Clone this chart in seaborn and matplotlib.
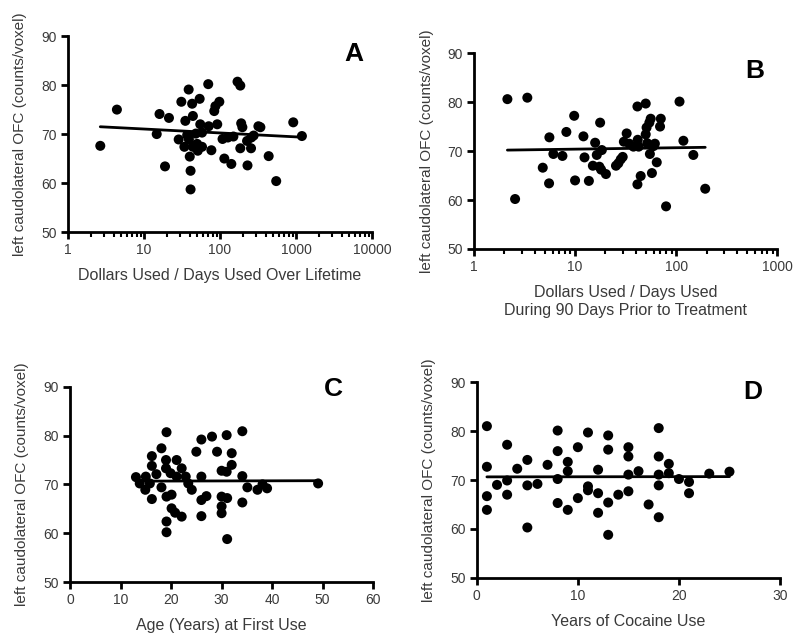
import numpy as np
import pandas as pd
import matplotlib
matplotlib.use("Agg")
import matplotlib.pyplot as plt
import seaborn as sns
from matplotlib.ticker import LogLocator, NullFormatter

sns.set_style("ticks")
plt.rcParams['font.family'] = ['Liberation Sans', 'DejaVu Sans']

# ---- data ----
# Panel A: dollars used / days used over lifetime
a_x = [2.66, 4.4, 14.7, 16, 18.9, 21.3, 31, 28.6, 35, 38.7, 34, 37, 39, 40, 41, 41,
       43, 44, 44, 48, 50, 51, 54, 55, 58, 58, 70, 71, 77, 84, 87, 92, 98, 108, 114,
       141, 127, 150, 170, 185, 190, 197, 185, 227, 230, 258, 256, 277, 320, 340,
       437, 549, 920, 1196]
a_y = [67.6, 75.0, 70.0, 74.1, 63.4, 73.3, 76.6, 68.9, 72.7, 79.1, 67.4, 69.8, 68.9,
       65.4, 62.5, 58.7, 76.2, 73.7, 67.4, 70.1, 68.0, 66.6, 77.2, 72.0, 70.3, 67.4,
       80.2, 71.6, 66.7, 74.7, 75.7, 72.0, 76.6, 69.0, 65.0, 63.9, 69.3, 69.5, 80.7,
       79.9, 72.2, 71.4, 67.1, 68.6, 63.6, 69.3, 67.1, 69.7, 71.6, 71.4, 65.5, 60.4,
       72.4, 69.6]

# Panel B: dollars used / days used during 90 days prior to treatment
b_x = [2.14, 2.55, 3.37, 4.79, 5.57, 5.53, 6.1, 7.5, 8.2, 9.8, 10, 12.1, 12.4, 13.7,
       15, 15.8, 16.4, 17.7, 17.4, 18.4, 18.1, 20.2, 25.4, 26.8, 28.3, 29.6, 32.4,
       30.4, 34.4, 37.8, 41.4, 41.7, 42.6, 41.4, 44.6, 50, 50, 51, 51.8, 54.3, 56,
       55, 57.6, 59.6, 61.6, 64.3, 69.3, 70.5, 79.5, 108, 118, 148, 194]
b_y = [80.6, 60.2, 80.9, 66.6, 72.8, 63.4, 69.4, 69.0, 73.9, 77.2, 64.0, 73.0, 68.7,
       63.9, 67.0, 71.7, 69.2, 75.8, 66.8, 70.2, 66.2, 65.3, 67.0, 67.5, 68.3, 68.8,
       73.6, 71.9, 71.5, 70.9, 79.1, 72.3, 70.9, 63.2, 64.9, 79.7, 73.4, 74.8, 71.6,
       75.8, 76.6, 69.4, 65.5, 71.0, 71.5, 67.7, 75.0, 76.6, 58.7, 80.1, 72.1, 69.2,
       62.3]

# Panel C: age (years) at first use
c_x = [13.05, 13.8, 15.0, 14.9, 15.8, 16.2, 16.2, 16.2, 17.1, 18.1, 18.1, 19.1, 19.0,
       19.0, 19.1, 19.1, 19.1, 19.9, 20.1, 20.1, 20.8, 21.1, 21.1, 22.1, 22.1, 22.9,
       23.4, 24.1, 25, 26, 26, 26, 26, 27, 28.1, 29.1, 30, 30, 30, 30, 31, 31, 31.1,
       31.1, 32, 32, 34.1, 34.1, 34.1, 35.1, 37.1, 38.1, 39, 49.1]
c_y = [71.5, 70.2, 71.6, 68.9, 70.2, 67.0, 73.8, 75.8, 72.1, 77.4, 69.4, 80.7, 75.0,
       73.3, 67.5, 62.4, 60.2, 72.3, 67.9, 65.1, 64.2, 75.0, 71.6, 73.3, 63.4, 71.6,
       70.2, 68.9, 76.7, 79.2, 71.6, 66.8, 63.5, 67.6, 79.8, 76.7, 72.8, 67.5, 65.5,
       64.1, 80.1, 72.6, 67.2, 58.8, 76.4, 74.0, 80.9, 71.7, 66.3, 69.4, 68.9, 70.0,
       69.2, 70.2]

# Panel D: years of cocaine use
d_x = [1, 1, 1, 1, 2, 3, 3, 3, 4, 5, 5, 5, 6, 7, 8, 8, 8, 8, 9, 9, 9, 10, 10, 11, 11,
       11, 12, 12, 12, 13, 13, 13, 13, 14, 15, 15, 15, 15, 16, 17, 18, 18, 18, 18, 18,
       19, 19, 20, 21, 21, 23, 25]
d_y = [81.0, 72.7, 66.7, 63.9, 69.0, 77.2, 69.9, 67.0, 72.3, 74.1, 68.9, 60.3, 69.2,
       73.1, 80.1, 75.9, 70.2, 65.3, 73.7, 71.8, 63.9, 76.7, 66.3, 79.7, 68.7, 67.9,
       72.1, 67.3, 63.3, 79.1, 76.2, 65.4, 58.8, 67.0, 76.7, 74.8, 71.1, 67.7, 71.8,
       65.0, 80.6, 74.8, 71.1, 68.9, 62.4, 73.3, 71.4, 70.2, 69.6, 67.3, 71.3, 71.7]

y_label = "left caudolateral OFC (counts/voxel)"

panels = [
    dict(x=a_x, y=a_y, letter="A", log=True, xlim=(1, 10000),
         xlabel="Dollars Used / Days Used Over Lifetime",
         rect=[0.085, 0.6375, 0.38, 0.306], letter_pos=(0.94, 0.91)),
    dict(x=b_x, y=b_y, letter="B", log=True, xlim=(1, 1000),
         xlabel="Dollars Used / Days Used\nDuring 90 Days Prior to Treatment",
         rect=[0.5925, 0.611, 0.379, 0.306], letter_pos=(0.925, 0.91)),
    dict(x=c_x, y=c_y, letter="C", log=False, xlim=(0, 60), xticks=[0, 10, 20, 30, 40, 50, 60],
         xlabel="Age (Years) at First Use",
         rect=[0.0875, 0.0906, 0.379, 0.305], letter_pos=(0.87, 0.99)),
    dict(x=d_x, y=d_y, letter="D", log=False, xlim=(0, 30), xticks=[0, 10, 20, 30],
         xlabel="Years of Cocaine Use",
         rect=[0.596, 0.097, 0.379, 0.306], letter_pos=(0.91, 0.95)),
]

fig = plt.figure(figsize=(8, 6.4), dpi=100)
tick_color = "#3a3a3a"

for p in panels:
    ax = fig.add_axes(p["rect"])
    df = pd.DataFrame({"x": p["x"], "y": p["y"]})
    sns.regplot(data=df, x="x", y="y", ax=ax, ci=None, logx=p["log"],
                scatter_kws=dict(s=52, color="black", edgecolor="none", alpha=1),
                line_kws=dict(color="black", lw=2))
    if p["log"]:
        ax.set_xscale("log")
        decades = [10 ** k for k in range(int(np.log10(p["xlim"][1])) + 1)]
        ax.set_xticks(decades)
        ax.set_xticklabels([str(d) for d in decades])
        ax.xaxis.set_minor_locator(LogLocator(base=10, subs=np.arange(2, 10)))
        ax.xaxis.set_minor_formatter(NullFormatter())
    else:
        ax.set_xticks(p["xticks"])
    ax.set_xlim(*p["xlim"])
    ax.set_ylim(50, 90)
    ax.set_yticks([50, 60, 70, 80, 90])
    ax.set_xlabel(p["xlabel"], fontsize=11.5, color=tick_color, labelpad=8,
                  linespacing=1.2)
    ax.set_ylabel(y_label, fontsize=11, color=tick_color, labelpad=10)
    sns.despine(ax=ax)
    for side in ["left", "bottom"]:
        ax.spines[side].set_linewidth(2)
        ax.spines[side].set_color("black")
    ax.tick_params(axis="both", which="major", length=5, width=2, color="black",
                   labelsize=10, labelcolor=tick_color, direction="out", pad=3)
    ax.tick_params(axis="x", which="minor", length=3.5, width=1.5, color="black")
    ax.text(p["letter_pos"][0], p["letter_pos"][1], p["letter"], transform=ax.transAxes,
            fontsize=19, fontweight="bold", ha="center", va="center", color="black")

fig.savefig("out.png", dpi=100, facecolor="white")
